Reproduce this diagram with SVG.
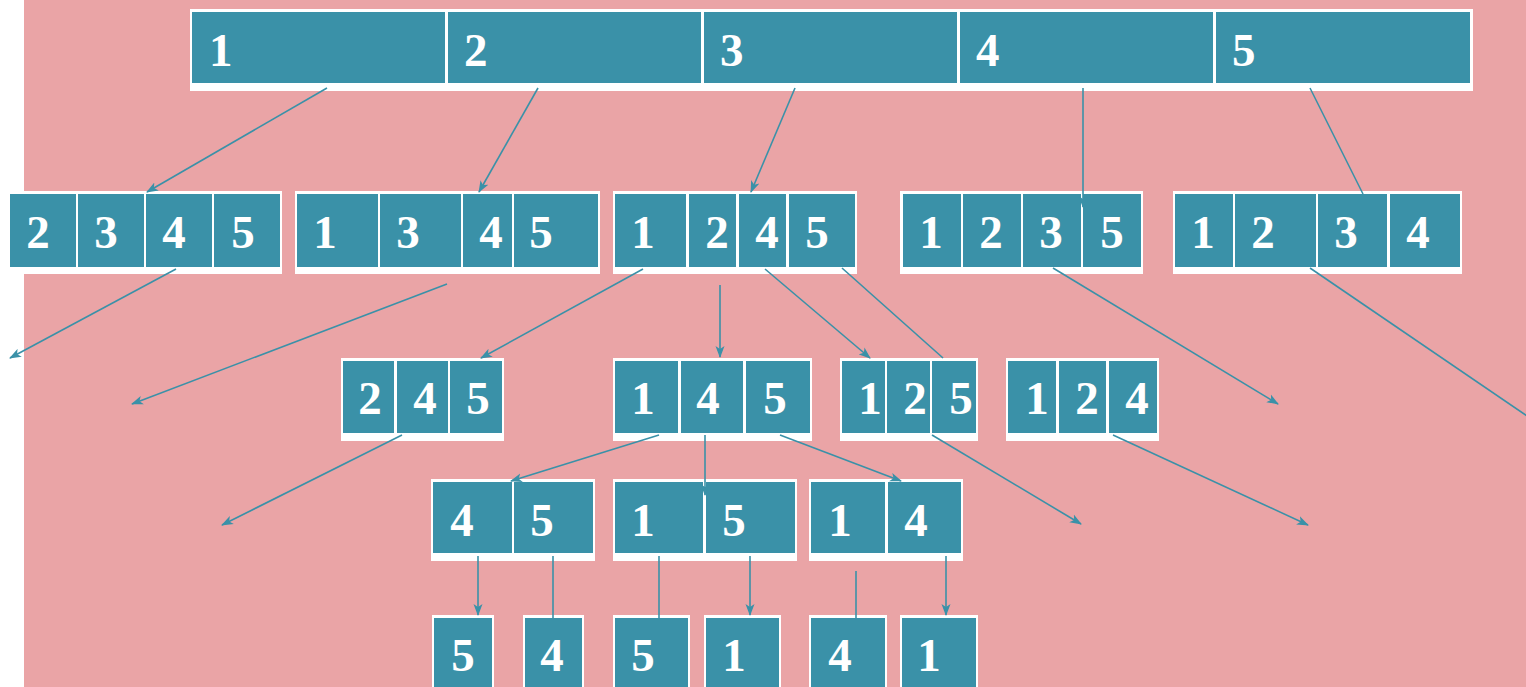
<svg xmlns="http://www.w3.org/2000/svg" width="1526" height="687" viewBox="0 0 1526 687">
<defs>
<style>
.w{fill:#ffffff}
.c{fill:#3A91A8}
.t{fill:#ffffff;font-family:"Liberation Serif","Times New Roman",serif;font-weight:bold;font-size:47px;text-anchor:middle}
.tl{text-anchor:start}
.e{stroke:#3A91A8;stroke-width:1.6;fill:none}
.a{marker-end:url(#ah)}
</style>
<marker id="ah" markerWidth="14" markerHeight="10" refX="11" refY="5" orient="auto" markerUnits="userSpaceOnUse">
<path d="M0,0.5 L12,5 L0,9.5 L3,5 z" fill="#3A91A8"/>
</marker>
</defs>
<rect x="0" y="0" width="1526" height="687" fill="#ffffff"/>
<rect x="24" y="0" width="1502" height="687" fill="#EAA4A6"/>

<g id="n-top">
<rect class="w" x="190" y="9" width="1283" height="82"/>
<rect class="c" x="192" y="12" width="253" height="71"/>
<rect class="c" x="448" y="12" width="253" height="71"/>
<rect class="c" x="704" y="12" width="253" height="71"/>
<rect class="c" x="960" y="12" width="253" height="71"/>
<rect class="c" x="1216" y="12" width="254" height="71"/>
<text class="t tl" x="209" y="66">1</text>
<text class="t tl" x="464" y="66">2</text>
<text class="t tl" x="720" y="66">3</text>
<text class="t tl" x="976" y="66">4</text>
<text class="t tl" x="1232" y="66">5</text>
</g>

<g id="n-2345">
<rect class="w" x="8" y="191" width="274" height="83"/>
<rect class="c" x="10" y="194" width="66" height="73"/>
<rect class="c" x="78" y="194" width="66" height="73"/>
<rect class="c" x="146" y="194" width="66" height="73"/>
<rect class="c" x="214" y="194" width="66" height="73"/>
<text class="t" x="38" y="248">2</text>
<text class="t" x="106" y="248">3</text>
<text class="t" x="174" y="248">4</text>
<text class="t" x="243" y="248">5</text>
</g>

<g id="n-1345">
<rect class="w" x="295" y="191" width="305" height="83"/>
<rect class="c" x="297" y="194" width="81" height="73"/>
<rect class="c" x="380" y="194" width="81" height="73"/>
<rect class="c" x="463" y="194" width="49" height="73"/>
<rect class="c" x="514" y="194" width="84" height="73"/>
<text class="t" x="325" y="248">1</text>
<text class="t" x="408" y="248">3</text>
<text class="t" x="491" y="248">4</text>
<text class="t" x="541" y="248">5</text>
</g>

<g id="n-1245">
<rect class="w" x="613" y="191" width="244" height="83"/>
<rect class="c" x="615" y="194" width="71" height="73"/>
<rect class="c" x="689" y="194" width="47" height="73"/>
<rect class="c" x="739" y="194" width="47" height="73"/>
<rect class="c" x="789" y="194" width="66" height="73"/>
<text class="t" x="643" y="248">1</text>
<text class="t" x="717" y="248">2</text>
<text class="t" x="767" y="248">4</text>
<text class="t" x="817" y="248">5</text>
</g>

<g id="n-1235">
<rect class="w" x="900" y="191" width="243" height="83"/>
<rect class="c" x="903" y="194" width="58" height="73"/>
<rect class="c" x="963" y="194" width="58" height="73"/>
<rect class="c" x="1023" y="194" width="58" height="73"/>
<rect class="c" x="1083" y="194" width="58" height="73"/>
<text class="t" x="931" y="248">1</text>
<text class="t" x="991" y="248">2</text>
<text class="t" x="1051" y="248">3</text>
<text class="t" x="1112" y="248">5</text>
</g>

<g id="n-1234">
<rect class="w" x="1173" y="191" width="289" height="83"/>
<rect class="c" x="1175" y="194" width="58" height="73"/>
<rect class="c" x="1235" y="194" width="81" height="73"/>
<rect class="c" x="1318" y="194" width="69" height="73"/>
<rect class="c" x="1390" y="194" width="70" height="73"/>
<text class="t" x="1203" y="248">1</text>
<text class="t" x="1263" y="248">2</text>
<text class="t" x="1346" y="248">3</text>
<text class="t" x="1418" y="248">4</text>
</g>

<g id="n-245">
<rect class="w" x="341" y="358" width="163" height="83"/>
<rect class="c" x="343" y="361" width="51" height="72"/>
<rect class="c" x="397" y="361" width="51" height="72"/>
<rect class="c" x="450" y="361" width="52" height="72"/>
<text class="t" x="370" y="414">2</text>
<text class="t" x="425" y="414">4</text>
<text class="t" x="478" y="414">5</text>
</g>

<g id="n-145">
<rect class="w" x="613" y="358" width="199" height="83"/>
<rect class="c" x="615" y="361" width="63" height="72"/>
<rect class="c" x="681" y="361" width="62" height="72"/>
<rect class="c" x="746" y="361" width="64" height="72"/>
<text class="t" x="643" y="414">1</text>
<text class="t" x="708" y="414">4</text>
<text class="t" x="775" y="414">5</text>
</g>

<g id="n-125">
<rect class="w" x="840" y="358" width="138" height="83"/>
<rect class="c" x="842" y="361" width="43" height="72"/>
<rect class="c" x="887" y="361" width="43" height="72"/>
<rect class="c" x="932" y="361" width="44" height="72"/>
<text class="t" x="870" y="414">1</text>
<text class="t" x="915" y="414">2</text>
<text class="t" x="961" y="414">5</text>
</g>

<g id="n-124">
<rect class="w" x="1006" y="358" width="153" height="83"/>
<rect class="c" x="1008" y="361" width="48" height="72"/>
<rect class="c" x="1059" y="361" width="47" height="72"/>
<rect class="c" x="1109" y="361" width="48" height="72"/>
<text class="t" x="1037" y="414">1</text>
<text class="t" x="1087" y="414">2</text>
<text class="t" x="1137" y="414">4</text>
</g>

<g id="n-45">
<rect class="w" x="431" y="479" width="164" height="82"/>
<rect class="c" x="433" y="482" width="79" height="71"/>
<rect class="c" x="514" y="482" width="79" height="71"/>
<text class="t" x="462" y="536">4</text>
<text class="t" x="542" y="536">5</text>
</g>

<g id="n-15">
<rect class="w" x="613" y="479" width="184" height="82"/>
<rect class="c" x="615" y="482" width="88" height="71"/>
<rect class="c" x="706" y="482" width="89" height="71"/>
<text class="t" x="643" y="536">1</text>
<text class="t" x="734" y="536">5</text>
</g>

<g id="n-14">
<rect class="w" x="809" y="479" width="154" height="82"/>
<rect class="c" x="811" y="482" width="74" height="71"/>
<rect class="c" x="888" y="482" width="73" height="71"/>
<text class="t" x="840" y="536">1</text>
<text class="t" x="916" y="536">4</text>
</g>

<g id="n-5a">
<rect class="w" x="432" y="615" width="62" height="80"/>
<rect class="c" x="434" y="618" width="58" height="80"/>
<text class="t" x="463" y="671">5</text>
</g>
<g id="n-4a">
<rect class="w" x="523" y="615" width="61" height="80"/>
<rect class="c" x="525" y="618" width="57" height="80"/>
<text class="t" x="552" y="671">4</text>
</g>
<g id="n-5b">
<rect class="w" x="613" y="615" width="77" height="80"/>
<rect class="c" x="615" y="618" width="73" height="80"/>
<text class="t" x="643" y="671">5</text>
</g>
<g id="n-1a">
<rect class="w" x="704" y="615" width="77" height="80"/>
<rect class="c" x="706" y="618" width="73" height="80"/>
<text class="t" x="734" y="671">1</text>
</g>
<g id="n-4b">
<rect class="w" x="809" y="615" width="78" height="80"/>
<rect class="c" x="811" y="618" width="74" height="80"/>
<text class="t" x="840" y="671">4</text>
</g>
<g id="n-1b">
<rect class="w" x="900" y="615" width="78" height="80"/>
<rect class="c" x="902" y="618" width="74" height="80"/>
<text class="t" x="929" y="671">1</text>
</g>

<g id="connectors">
<line class="e a" x1="327" y1="88" x2="147" y2="192"/>
<line class="e a" x1="538" y1="88" x2="479" y2="192"/>
<line class="e a" x1="795" y1="88" x2="751" y2="192"/>
<line class="e a" x1="1083" y1="88" x2="1083" y2="207"/>
<line class="e" x1="1310" y1="88" x2="1363" y2="194"/>

<line class="e a" x1="176" y1="269" x2="10" y2="358"/>
<line class="e a" x1="447" y1="284" x2="132" y2="404"/>
<line class="e a" x1="643" y1="269" x2="481" y2="358"/>
<line class="e a" x1="720" y1="285" x2="720" y2="357"/>
<line class="e a" x1="765" y1="269" x2="870" y2="358"/>
<line class="e" x1="842" y1="268" x2="943" y2="358"/>
<line class="e a" x1="1053" y1="268" x2="1278" y2="404"/>
<line class="e" x1="1310" y1="268" x2="1530" y2="418"/>

<line class="e a" x1="402" y1="435" x2="222" y2="525"/>
<line class="e a" x1="659" y1="435" x2="511" y2="481"/>
<line class="e a" x1="705" y1="435" x2="705" y2="495"/>
<line class="e a" x1="780" y1="435" x2="901" y2="481"/>
<line class="e a" x1="932" y1="435" x2="1081" y2="524"/>
<line class="e a" x1="1113" y1="435" x2="1308" y2="525"/>

<line class="e a" x1="478" y1="556" x2="478" y2="615"/>
<line class="e" x1="553" y1="556" x2="553" y2="618"/>
<line class="e" x1="659" y1="556" x2="659" y2="618"/>
<line class="e a" x1="750" y1="556" x2="750" y2="615"/>
<line class="e" x1="856" y1="571" x2="856" y2="618"/>
<line class="e a" x1="946" y1="556" x2="946" y2="615"/>
</g>
</svg>
